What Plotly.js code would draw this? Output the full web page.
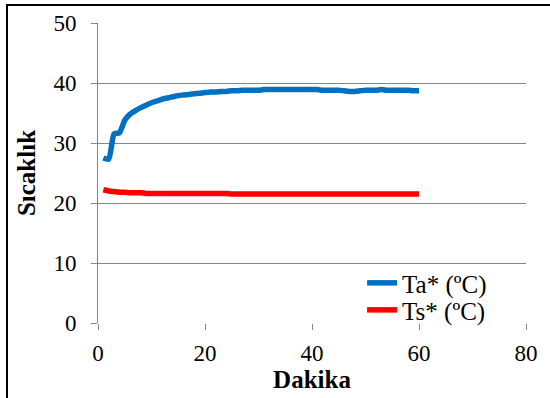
<!DOCTYPE html>
<html>
<head>
<meta charset="utf-8">
<script src="https://cdn.plot.ly/plotly-3.0.1.min.js"></script>
<style>
html,body{margin:0;padding:0;background:#fff;overflow:hidden;}
#chart{width:550px;height:398px;}
#frame{position:absolute;left:6px;top:4px;width:600px;height:450px;border:2px solid #000;pointer-events:none;}
</style>
</head>
<body>
<div id="chart"></div>
<div id="frame"></div>
<script>
const minutes = [1,2,3,4,5,6,7,8,9,10,11,12,13,14,15,16,17,18,19,20,
  21,22,23,24,25,26,27,28,29,30,31,32,33,34,35,36,37,38,39,40,
  41,42,43,44,45,46,47,48,49,50,51,52,53,54,55,56,57,58,59,60];
const ta = [27.5,27.3,31.5,31.7,33.8,34.8,35.4,35.9,36.3,36.7,
  37.0,37.3,37.5,37.7,37.9,38.0,38.1,38.2,38.3,38.4,
  38.5,38.5,38.6,38.6,38.7,38.7,38.8,38.8,38.8,38.8,
  38.9,38.9,38.9,38.9,38.9,38.9,38.9,38.9,38.9,38.9,
  38.9,38.8,38.8,38.8,38.8,38.7,38.6,38.6,38.7,38.8,
  38.8,38.8,38.9,38.8,38.8,38.8,38.8,38.8,38.7,38.7];
const ts = [22.2,22.0,21.9,21.8,21.8,21.7,21.7,21.7,21.6,21.6,
  21.6,21.6,21.6,21.6,21.6,21.6,21.6,21.6,21.6,21.6,
  21.6,21.6,21.6,21.6,21.5,21.5,21.5,21.5,21.5,21.5,
  21.5,21.5,21.5,21.5,21.5,21.5,21.5,21.5,21.5,21.5,
  21.5,21.5,21.5,21.5,21.5,21.5,21.5,21.5,21.5,21.5,
  21.5,21.5,21.5,21.5,21.5,21.5,21.5,21.5,21.5,21.5];
const seriesNames = ['Ta* (ºC)', 'Ts* (ºC)'];
const xTicks = [0,20,40,60,80];
const yTicks = [0,10,20,30,40,50];

const font = 'Liberation Serif';
const traces = [
  {x: minutes, y: ta, name: seriesNames[0], type: 'scatter', mode: 'lines', legend: 'legend',
   line: {color: '#0070C0', width: 5.5, shape: 'spline', smoothing: 0.6}},
  {x: minutes, y: ts, name: seriesNames[1], type: 'scatter', mode: 'lines', legend: 'legend2',
   line: {color: '#FF0000', width: 5.5, shape: 'spline', smoothing: 0.6}}
];
const legendBase = {xanchor: 'left', yanchor: 'middle', bgcolor: 'rgba(255,255,255,0)',
  font: {family: font, size: 25, color: '#000'}, itemwidth: 30};
const layout = {
  width: 550, height: 398,
  margin: {l: 98, r: 24, t: 23, b: 75},
  paper_bgcolor: '#fff', plot_bgcolor: '#fff',
  font: {family: font, size: 23, color: '#000'},
  showlegend: true,
  legend: Object.assign({x: 0.617, y: 0.133}, legendBase),
  legend2: Object.assign({x: 0.617, y: 0.043}, legendBase),
  xaxis: {range: [0, 80], tickvals: xTicks, ticktext: xTicks.map(String),
    showgrid: false, zeroline: false, showline: false,
    ticks: 'outside', ticklen: 6, tickcolor: '#868686', tickwidth: 1,
    ticklabelstandoff: 3,
    tickfont: {family: font, size: 23, color: '#000'}, fixedrange: true,
    title: {text: '<b>Dakika</b>', font: {family: font, size: 25, color: '#000'}, standoff: 0}},
  yaxis: {range: [0, 50], tickvals: yTicks, ticktext: yTicks.map(String),
    showgrid: true, gridcolor: '#868686', gridwidth: 1,
    zeroline: false, showline: true, linecolor: '#868686', linewidth: 1,
    ticks: 'outside', ticklen: 6, tickcolor: '#868686', tickwidth: 1,
    ticklabelstandoff: 10,
    tickfont: {family: font, size: 23, color: '#000'}, fixedrange: true,
    title: {text: '<b>Sıcaklık</b>', font: {family: font, size: 25, color: '#000'}, standoff: 10}}
};
Plotly.newPlot('chart', traces, layout, {displayModeBar: false, staticPlot: true});
</script>
</body>
</html>
